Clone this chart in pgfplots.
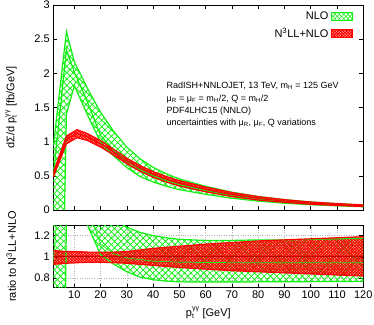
\documentclass[border=0pt]{standalone}
\usepackage{fontspec}
\setmainfont{Liberation Sans}
\usepackage{pgfplots}
\pgfplotsset{compat=1.18}
\usepackage{pgfplotstable}
\usepgfplotslibrary{fillbetween}
\usetikzlibrary{patterns.meta}

\definecolor{nlo}{RGB}{20,240,20}
\definecolor{res}{RGB}{255,0,0}

% NLO band, top panel
\pgfplotstableread{
x    lo     c      up
2    0.10   0.50   0.93
5.5  -1.50  1.79   2.11
7    1.40   2.34   2.61
10   1.82   2.02   2.17
15   1.39   1.58   1.78
20   0.99   1.09   1.43
25   0.79   0.876  1.15
30   0.62   0.713  0.92
35   0.49   0.595  0.75
40   0.41   0.50   0.624
45   0.347  0.43   0.531
50   0.298  0.371  0.454
60   0.229  0.284  0.347
70   0.172  0.213  0.26
80   0.130  0.161  0.197
90   0.0996 0.123  0.151
100  0.0767 0.0945 0.117
110  0.0614 0.0756 0.094
120  0.0477 0.0586 0.073
}\nlotop

% N3LL+NLO band, top panel
\pgfplotstableread{
x    lo     c      up
2    0.484  0.52   0.551
7    0.968  1.03   1.082
11   1.058  1.12   1.176
15   1.017  1.07   1.118
20   0.922  0.97   1.014
25   0.803  0.85   0.888
30   0.677  0.72   0.756
35   0.567  0.61   0.650
40   0.478  0.52   0.562
45   0.410  0.45   0.491
50   0.351  0.39   0.429
60   0.266  0.30   0.336
70   0.196  0.225  0.255
80   0.146  0.17   0.196
90   0.111  0.13   0.151
100  0.084  0.10   0.117
110  0.066  0.08   0.094
120  0.051  0.062  0.074
}\restop

% ratios to N3LL+NLO
\pgfplotstableread{
x    lo     c      up
2    0.19   0.96   1.79
5.5  -1.70  2.00   2.40
7    1.36   2.27   2.53
10   1.65   1.84   1.97
15   1.30   1.48   1.66
20   1.02   1.12   1.47
25   0.93   1.03   1.35
30   0.86   0.99   1.28
35   0.81   0.975  1.23
40   0.785  0.96   1.20
45   0.772  0.955  1.18
50   0.765  0.95   1.165
60   0.763  0.947  1.155
70   0.763  0.946  1.155
80   0.765  0.945  1.16
90   0.766  0.945  1.16
100  0.767  0.945  1.165
110  0.768  0.945  1.17
120  0.77   0.945  1.175
}\nlorat

\pgfplotstableread{
x    lo     up
2    0.93   1.06
7    0.94   1.05
11   0.945  1.05
15   0.95   1.045
20   0.95   1.045
25   0.945  1.045
30   0.94   1.05
35   0.93   1.065
40   0.92   1.08
45   0.91   1.09
50   0.90   1.10
60   0.885  1.12
70   0.87   1.135
80   0.86   1.15
90   0.85   1.16
100  0.84   1.17
110  0.83   1.18
120  0.82   1.19
}\resrat

\newcommand{\ptgg}{p$_{\mbox{\scriptsize t}}^{\mbox{\scriptsize γγ}}$}

\pgfplotsset{
  panel/.style={
    scale only axis, width=310pt,
    xmin=2, xmax=120, xtick={10,20,...,120},
    tick align=inside, major tick length=4pt,
    axis line style={line width=0.6pt},
    tick style={line width=0.6pt, black},
    /pgf/number format/assume math mode=true,
    tick label style={font=\fontsize{11}{12}\selectfont},
    label style={font=\fontsize{11}{12}\selectfont},
  },
  legsq/.style={legend image code/.code={\draw[##1] (0pt,-4pt) rectangle (21pt,4pt);}},
  nloline/.style={nlo, line width=1.2pt, forget plot},
  resline/.style={res, line width=1.2pt, forget plot},
  nlofill/.style={draw=none, pattern={Hatch[angle=45,distance=4.5pt,line width=0.8pt]}, pattern color=nlo, forget plot},
  resfill/.style={draw=none, pattern={Hatch[angle=45,distance=2pt,line width=1.1pt]}, pattern color=res, forget plot},
}

\begin{document}
\begin{tikzpicture}
\begin{axis}[panel,
  at={(0,0)}, anchor=north west, height=205pt,
  ymin=0, ymax=3, ytick={0,0.5,1,1.5,2,2.5,3},
  xticklabels={},
  ylabel={dΣ/d \ptgg{} [fb/GeV]},
  y label style={at={(axis description cs:-0.136,0.5)}, anchor=center},
  legend style={draw=none, fill=none, at={(0.975,0.985)}, anchor=north east,
    font=\fontsize{11}{12}\selectfont, row sep=3pt},
  legend cell align=right, legend plot pos=right,
]
\addlegendimage{legsq, draw=nlo, line width=0.8pt, pattern={Hatch[angle=45,distance=3pt,line width=0.6pt]}, pattern color=nlo}
\addlegendentry{NLO}
\addlegendimage{legsq, draw=res, line width=0.8pt, pattern={Hatch[angle=45,distance=2pt,line width=1.1pt]}, pattern color=res}
\addlegendentry{N\textsuperscript{3}LL+NLO}

\addplot[nloline, name path=nU] table[x=x,y=up]{\nlotop};
\addplot[nloline, name path=nL] table[x=x,y=lo]{\nlotop};
\addplot[nloline] table[x=x,y=c]{\nlotop};
\addplot[nlofill] fill between[of=nU and nL];

\addplot[resline, name path=rU] table[x=x,y=up]{\restop};
\addplot[resline, name path=rL] table[x=x,y=lo]{\restop};
\addplot[resline] table[x=x,y=c]{\restop};
\addplot[resfill] fill between[of=rU and rL];

\node[anchor=north west, align=left, font=\fontsize{9}{12.3}\selectfont]
  at (rel axis cs:0.354,0.64)
  {RadISH+NNLOJET, 13 TeV, m\textsubscript{H} = 125 GeV\\
   μ\textsubscript{R} = μ\textsubscript{F} = m\textsubscript{H}/2, Q = m\textsubscript{H}/2\\
   PDF4LHC15 (NNLO)\\
   uncertainties with μ\textsubscript{R}, μ\textsubscript{F}, Q variations};
\end{axis}

\begin{axis}[panel,
  at={(0,-220pt)}, anchor=north west, height=62.7pt,
  ymin=0.71, ymax=1.3, ytick={0.8,1,1.2},
  grid=major, grid style={dotted, gray!60, line width=0.5pt},
  xlabel={\ptgg{} [GeV]},
  x label style={at={(axis description cs:0.5,-0.40)}, anchor=center},
  ylabel={ratio to N\textsuperscript{3}LL+NLO},
  y label style={at={(axis description cs:-0.136,0.5)}, anchor=center},
]
\addplot[nloline, name path=qU] table[x=x,y=up]{\nlorat};
\addplot[nloline, name path=qL] table[x=x,y=lo]{\nlorat};
\addplot[nloline, line width=0.7pt] table[x=x,y=c]{\nlorat};
\addplot[nlofill] fill between[of=qU and qL];

\addplot[resline, name path=sU] table[x=x,y=up]{\resrat};
\addplot[resline, name path=sL] table[x=x,y=lo]{\resrat};
\addplot[resfill] fill between[of=sU and sL];
\addplot[res!75!black, line width=0.8pt, forget plot] coordinates {(2,1) (120,1)};
\end{axis}
\pgfresetboundingbox
\useasboundingbox (-53.3pt,5pt) rectangle (320.7pt,-319pt);
\end{tikzpicture}
\end{document}
